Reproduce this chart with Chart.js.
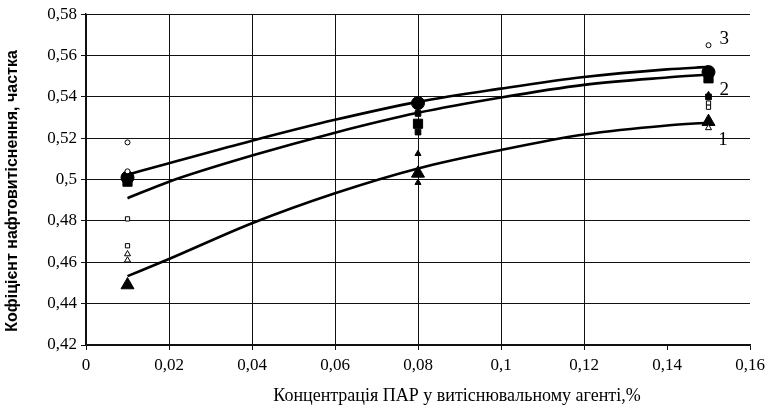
<!DOCTYPE html>
<html>
<head>
<meta charset="utf-8">
<script src="https://cdn.jsdelivr.net/npm/chart.js@4/dist/chart.umd.min.js"></script>
<style>
  html, body { margin: 0; padding: 0; background: #fff; }
  #wrap { width: 767px; height: 410px; }
</style>
</head>
<body>
<div id="wrap"><canvas id="oilChart"></canvas></div>
<script>
const curveX = [0.01, 0.02, 0.04, 0.06, 0.08, 0.10, 0.12, 0.14, 0.15];
const curve1 = [0.4533, 0.4616, 0.4789, 0.4934, 0.5054, 0.5143, 0.5218, 0.5262, 0.5275];
const curve2 = [0.4910, 0.4990, 0.5116, 0.5227, 0.5323, 0.5397, 0.5458, 0.5494, 0.5508];
const curve3 = [0.5024, 0.5079, 0.5188, 0.5289, 0.5376, 0.5440, 0.5496, 0.5533, 0.5545];

// measured points: [x, y]
const circleOpen = [[0.01, 0.518], [0.01, 0.504], [0.15, 0.565]];
const circleBig = [[0.01, 0.501], [0.08, 0.537], [0.15, 0.552]];
const squareOpen = [[0.01, 0.481], [0.01, 0.468], [0.15, 0.537], [0.15, 0.535]];
const squareBig = [[0.01, 0.499], [0.08, 0.527], [0.15, 0.549]];
const squareSmall = [[0.08, 0.532], [0.08, 0.523], [0.15, 0.540]];
const triangleOpen = [[0.01, 0.464], [0.01, 0.461], [0.15, 0.525]];
const triangleBig = [[0.01, 0.449], [0.08, 0.503], [0.15, 0.528]];
const triangleSmall = [[0.08, 0.5125], [0.08, 0.4985], [0.15, 0.541]];

// curve labels: [text, x, y]
const curveLabels = [['1', 0.1535, 0.519], ['2', 0.1538, 0.5434], ['3', 0.1538, 0.568]];

const xTitle = 'Концентрація ПАР у витіснювальному агенті,%';
const yTitle = 'Кофіцієнт нафтовитіснення, частка';

const toXY = arr => arr.map(p => ({ x: p[0], y: p[1] }));
const curvePts = ys => curveX.map((x, i) => ({ x: x, y: ys[i] }));
const fmt = v => String(Math.round(v * 100) / 100).replace('.', ',');

function markers(data, style, radius, filled) {
    return {
        type: 'scatter',
        data: toXY(data),
        pointStyle: style,
        pointRadius: radius,
        pointBorderWidth: 1,
        pointBorderColor: '#000',
        pointBackgroundColor: filled ? '#000' : '#fff',
        showLine: false
    };
}

function trend(ys) {
    return {
        type: 'line',
        data: curvePts(ys),
        borderColor: '#000',
        borderWidth: 2.6,
        pointRadius: 0,
        cubicInterpolationMode: 'monotone',
        fill: false
    };
}

// draws the 1 / 2 / 3 marks next to the curves and the two axis titles
const labelPlugin = {
    id: 'curveLabels',
    afterDraw(chart) {
        const ctx = chart.ctx;
        const xs = chart.scales.x, ys = chart.scales.y;
        ctx.save();
        ctx.fillStyle = '#000';
        ctx.font = '19px "Liberation Serif"';
        ctx.textAlign = 'center';
        ctx.textBaseline = 'middle';
        curveLabels.forEach(l => {
            ctx.fillText(l[0], xs.getPixelForValue(l[1]), ys.getPixelForValue(l[2]));
        });

        // x title, sits a bit right of the plot centre as in the original
        ctx.font = '18px "Liberation Serif"';
        ctx.fillText(xTitle, 457, 396);

        // y title
        ctx.translate(13, 191);
        ctx.rotate(-Math.PI / 2);
        ctx.font = 'bold 16px "Liberation Sans Narrow", "Liberation Sans"';
        ctx.fillText(yTitle, 0, 0);
        ctx.restore();
    }
};

const ctx = document.getElementById('oilChart').getContext('2d');
window.oilChart = new Chart(ctx, {
    data: {
        datasets: [
            trend(curve1),
            trend(curve2),
            trend(curve3),
            markers(triangleOpen, 'triangle', 3.5, false),
            markers(squareOpen, 'rect', 3, false),
            markers(circleOpen, 'circle', 2.5, false),
            markers(triangleSmall, 'triangle', 3.5, true),
            markers(squareSmall, 'rect', 4, true),
            markers(triangleBig, 'triangle', 7.5, true),
            markers(squareBig, 'rect', 6.5, true),
            markers(circleBig, 'circle', 6.5, true)
        ]
    },
    options: {
        responsive: true,
        maintainAspectRatio: false,
        animation: false,
        layout: { padding: { top: 12, right: 17, left: 0, bottom: 0 } },
        plugins: {
            legend: { display: false },
            tooltip: { enabled: false }
        },
        scales: {
            x: {
                type: 'linear',
                min: 0,
                max: 0.16,
                afterFit: s => { s.height = 65; s.paddingRight = 0; },
                ticks: {
                    stepSize: 0.02,
                    color: '#000',
                    font: { family: '"Liberation Serif"', size: 17 },
                    padding: 5,
                    maxRotation: 0,
                    callback: v => fmt(v)
                },
                grid: {
                    color: c => (c.tick && c.tick.value > 0.13) ? 'rgba(0,0,0,0)' : '#111',
                    tickColor: '#111',
                    tickLength: 5,
                    lineWidth: 1
                },
                border: { color: '#111', width: 1.5 }
            },
            y: {
                min: 0.42,
                max: 0.58,
                afterFit: s => { s.width = 86; },
                ticks: {
                    stepSize: 0.02,
                    color: '#000',
                    font: { family: '"Liberation Serif"', size: 17 },
                    padding: 4,
                    callback: v => fmt(v)
                },
                grid: {
                    color: '#111',
                    tickColor: '#111',
                    tickLength: 5,
                    lineWidth: 1
                },
                border: { color: '#111', width: 1.5 }
            }
        }
    },
    plugins: [labelPlugin]
});
</script>
</body>
</html>
